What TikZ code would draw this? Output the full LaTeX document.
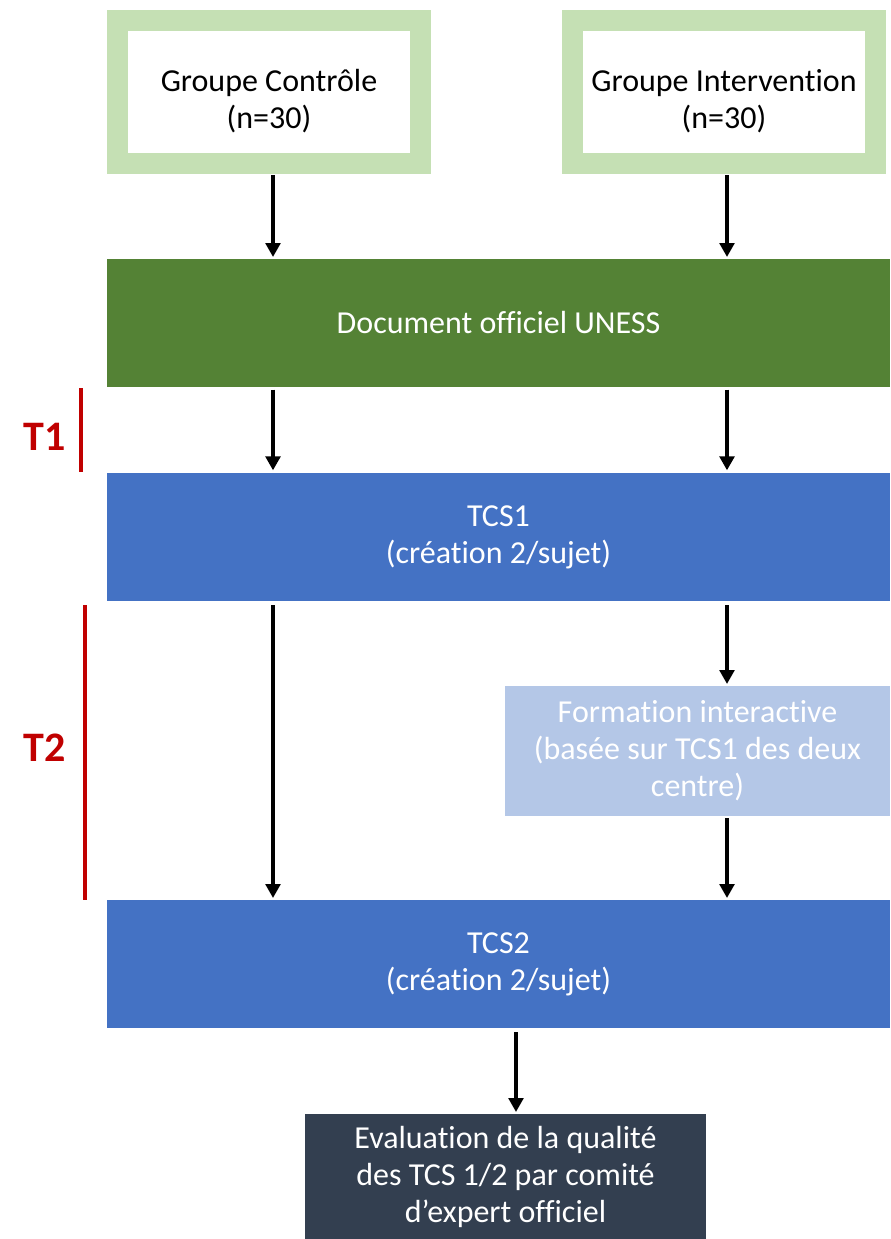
\documentclass[tikz,border=0pt]{standalone}
\usepackage{fontspec}
\setmainfont[Ligatures=NoCommon]{Carlito}
\usetikzlibrary{arrows.meta,calc}
\definecolor{lgreen}{HTML}{C5E0B4}
\definecolor{dgreen}{HTML}{548235}
\definecolor{mblue}{HTML}{4472C4}
\definecolor{lblue}{HTML}{B4C7E7}
\definecolor{slate}{HTML}{333F50}
\definecolor{dred}{HTML}{C00000}
\begin{document}
\begin{tikzpicture}[x=0.75pt,y=-0.75pt,
  every node/.style={inner sep=0pt, outer sep=0pt, align=center,
    font=\fontsize{24pt}{27.75pt}\selectfont},
  band/.style={fill=#1, draw=none, minimum width=587.25pt, minimum height=96pt, text=white},
  frame/.style={fill=lgreen, draw=none, minimum width=243pt, minimum height=123pt},
  inner/.style={fill=white, draw=none, minimum width=211.5pt, minimum height=91.5pt, text=black},
  grouptext/.style={label={[text=black, yshift=-6.75pt]center:{#1}}},
  arr/.style={line width=3pt, -{Triangle[width=11pt,length=10.5pt]}},
  tline/.style={draw=dred, line width=2.6pt},
  tlabel/.style={text=dred, font=\fontsize{31.5pt}{34pt}\selectfont\bfseries}
]
\useasboundingbox (0,0) rectangle (890,1239);

% top groups
\node[frame] (gcout) at (269,92) {};
\node[inner, grouptext={Groupe Contrôle\\(n=30)}] (gc) at (269,92) {};
\node[frame] (giout) at (724,92) {};
\node[inner, grouptext={Groupe Intervention\\(n=30)}] (gi) at (724,92) {};

% bands
\node[band=dgreen] (doc) at (498.5,323) {Document officiel UNESS};
\node[band=mblue] (tcs1) at (498.5,537) {TCS1\\(création 2/sujet)};
\node[fill=lblue, draw=none, minimum width=288.75pt, minimum height=97.5pt, text=white] (form) at (697.5,751)
  {Formation interactive\\(basée sur TCS1 des deux\\centre)};
\node[band=mblue] (tcs2) at (498.5,964) {TCS2\\(création 2/sujet)};
\node[fill=slate, draw=none, minimum width=300.75pt, minimum height=93.75pt, text=white] (eval) at (505.5,1176.5)
  {Evaluation de la qualité\\des TCS 1/2 par comité\\d’expert officiel};

% column coordinates
\coordinate (cl) at (273,0);
\coordinate (cr) at (727,0);
\coordinate (cm) at (516,0);

% arrows
\draw[arr, shorten <=1pt, shorten >=1.5pt] (gcout.south -| cl) -- (doc.north -| cl);
\draw[arr, shorten <=1pt, shorten >=1.5pt] (giout.south -| cr) -- (doc.north -| cr);
\draw[arr, shorten <=2pt, shorten >=2pt] (doc.south -| cl) -- (tcs1.north -| cl);
\draw[arr, shorten <=2pt, shorten >=2pt] (doc.south -| cr) -- (tcs1.north -| cr);
\draw[arr, shorten <=3pt, shorten >=1.5pt] (tcs1.south -| cl) -- (tcs2.north -| cl);
\draw[arr, shorten <=3pt, shorten >=1.5pt] (tcs1.south -| cr) -- (form.north -| cr);
\draw[arr, shorten <=1.5pt, shorten >=1.5pt] (form.south -| cr) -- (tcs2.north -| cr);
\draw[arr, shorten <=3pt, shorten >=1.5pt] (tcs2.south -| cm) -- (eval.north -| cm);

% time markers
\coordinate (t1a) at (81,388);
\coordinate (t1b) at (81,472);
\draw[tline] (t1a) -- (t1b);
\node[tlabel] (t1) at (45,437) {T1};
\coordinate (t2a) at (85,605);
\coordinate (t2b) at (85,900);
\draw[tline] (t2a) -- (t2b);
\node[tlabel] (t2) at (45,748) {T2};
\end{tikzpicture}
\end{document}
